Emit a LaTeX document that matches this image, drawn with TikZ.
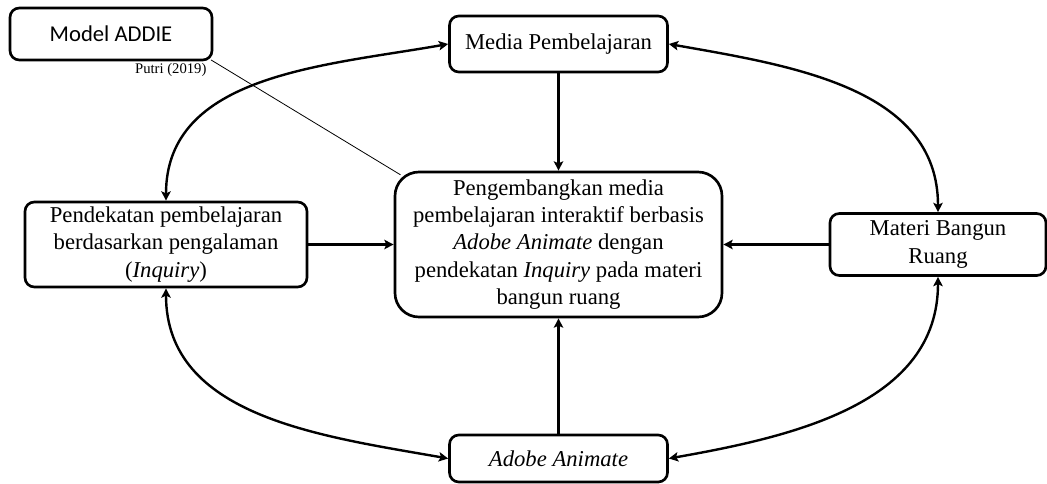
\documentclass[tikz,border=0pt]{standalone}
\usepackage{fontspec}
\setmainfont{Liberation Serif}
\newfontfamily\addiefont{Carlito}
\usepackage{tikz}
\usetikzlibrary{arrows.meta,positioning}
\tikzset{
    %Define standard arrow tip
    >={Stealth[length=7pt,width=7pt,inset=1.5pt]},
    %Define style for boxes
    kotak/.style={
           rectangle,
           rounded corners=7pt,
           draw=black, line width=2pt,
           font=\fontsize{17}{20.5}\selectfont,
           align=center},
    pusat/.style={
           kotak,
           rounded corners=18pt,
           minimum width=327*0.75pt,
           minimum height=145*0.75pt},
    sumber/.style={
           kotak,
           font=\addiefont\fontsize{17}{20}\selectfont},
    kutip/.style={
           inner sep=0pt,
           font=\fontsize{11}{12}\selectfont},
    % Define arrow style
    pil/.style={
           ->,
           line width=1.8pt},
    dpil/.style={
           <->,
           line width=1.8pt},
    garis/.style={
           line width=0.6pt}
}
\begin{document}
\begin{tikzpicture}[x=0.75pt,y=-0.75pt]
\useasboundingbox (0,0) rectangle (1047,483);
 %nodes
\node[pusat] (pusat) at (558.5,244.5) {Pengembangkan media\\pembelajaran interaktif berbasis\\\textit{Adobe Animate} dengan\\pendekatan \textit{Inquiry} pada materi\\bangun ruang};
\node[kotak, minimum width=218*0.75pt, minimum height=56*0.75pt] (media) at (558.5,44) {Media Pembelajaran};
\node[kotak, minimum width=282*0.75pt, minimum height=85*0.75pt] (inquiry) at (166,244.5) {Pendekatan pembelajaran\\berdasarkan pengalaman\\(\textit{Inquiry})};
\node[kotak, minimum width=216*0.75pt, minimum height=62*0.75pt] (materi) at (938,244.5) {Materi Bangun\\Ruang};
\node[kotak, minimum width=218*0.75pt, minimum height=47*0.75pt] (adobe) at (558.5,458.5) {\textit{Adobe Animate}};
\node[sumber, minimum width=202*0.75pt, minimum height=52*0.75pt] (addie) at (111,34) {Model ADDIE};
\node[kutip, below left=1pt and 5pt of addie.south east] (putri) {Putri (2019)};
 %connectors
\draw[garis, shorten <=-2pt, shorten >=-6pt] (addie.south east) -- (pusat.north west);
\draw[pil] (media) -- (pusat);
\draw[pil] (inquiry) -- (pusat);
\draw[pil] (materi) -- (pusat);
\draw[pil] (adobe) -- (pusat);
\draw[dpil] (inquiry.north) to[out=90,in=190] (media.west);
\draw[dpil] (media.east) to[out=-10,in=90] (materi.north);
\draw[dpil] (inquiry.south) to[out=-90,in=170] (adobe.west);
\draw[dpil] (materi.south) to[out=-90,in=10] (adobe.east);
\end{tikzpicture}
\end{document}
